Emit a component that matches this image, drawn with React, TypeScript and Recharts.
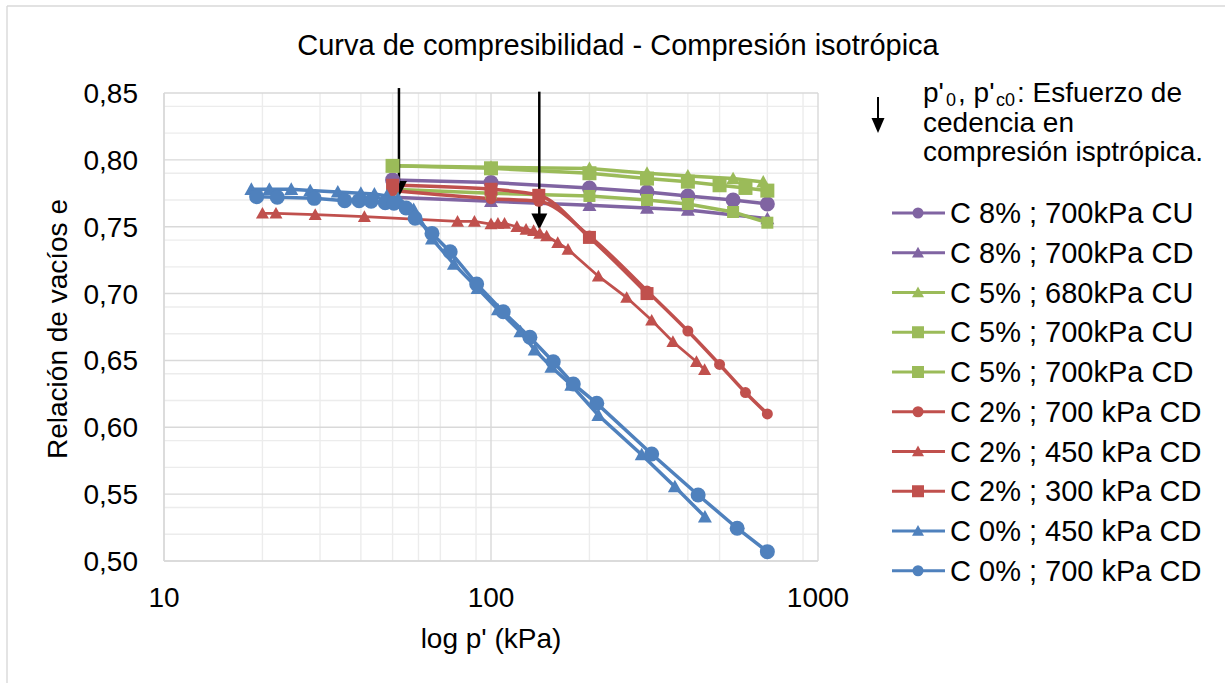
import React from 'react';
import { LineChart, Line, XAxis, YAxis, CartesianGrid, ReferenceLine } from 'recharts';

const PURPLE = '#8064A2';
const GREEN = '#9BBB59';
const RED = '#C0504D';
const BLUE = '#4F81BD';
const FONT = '"Liberation Sans", Arial, sans-serif';

// p' (kPa), e
const c8Cu700 = [[50, 0.785], [100, 0.783], [200, 0.779], [300, 0.776], [400, 0.773], [550, 0.770], [700, 0.767]];
const c8Cd700 = [[50, 0.772], [100, 0.769], [200, 0.766], [300, 0.764], [400, 0.7625], [700, 0.756]];
const c5Cu680 = [[50, 0.7955], [100, 0.7945], [200, 0.7935], [300, 0.790], [400, 0.788], [550, 0.786], [680, 0.7835]];
const c5Cu700 = [[50, 0.7955], [100, 0.7937], [200, 0.790], [300, 0.786], [400, 0.7837], [500, 0.781], [600, 0.779], [700, 0.777]];
const c5Cd700 = [[50, 0.778], [100, 0.775], [200, 0.773], [300, 0.770], [400, 0.767], [550, 0.761], [700, 0.753]];
const c2Cd700 = [[50, 0.777], [100, 0.771], [140, 0.769], [200, 0.743], [300, 0.702], [400, 0.672], [500, 0.647], [600, 0.626], [700, 0.610]];
const c2Cd450 = [
  [20, 0.760], [22, 0.760], [29, 0.759], [41, 0.7575], [79, 0.754], [89, 0.754], [100, 0.752], [105, 0.7525],
  [110, 0.7525], [120, 0.750], [128, 0.748], [135, 0.747], [141, 0.745], [148, 0.743], [160, 0.738], [172, 0.733],
  [213, 0.713], [260, 0.697], [310, 0.680], [360, 0.664], [425, 0.649], [450, 0.643],
];
const c2Cd300 = [[50, 0.781], [100, 0.778], [140, 0.7735], [200, 0.742], [300, 0.700]];
const c0Cd450 = [
  [18.5, 0.778], [21, 0.778], [24.5, 0.778], [28, 0.777], [34, 0.776], [40, 0.775], [44, 0.7745], [48, 0.773],
  [52, 0.771], [58, 0.763], [66, 0.741], [77, 0.722], [91, 0.704], [105, 0.688], [123, 0.6715], [136, 0.658],
  [153, 0.645], [176, 0.6316], [213, 0.609], [289, 0.5795], [365, 0.5556], [451, 0.533],
];
const c0Cd700 = [
  [19.2, 0.7725], [22.2, 0.772], [28.8, 0.7712], [35.7, 0.7695], [39.5, 0.7695], [43, 0.769], [47.5, 0.768],
  [50.5, 0.7675], [55, 0.764], [58.6, 0.7563], [66, 0.745], [75, 0.7313], [90.4, 0.7072], [109, 0.6864],
  [131.5, 0.6673], [155, 0.649], [178.5, 0.6324], [210.6, 0.6179], [310, 0.580], [430, 0.5494], [566, 0.5245], [700, 0.507],
];

// yield stress arrows: p', top of arrow, tip of arrow
const arrows = [
  { p: 52.3, top: 0.8537, tip: 0.7722 },
  { p: 140.5, top: 0.851, tip: 0.748 },
];

const xTicks = [10, 100, 1000];
const yTicks = [0.5, 0.55, 0.6, 0.65, 0.7, 0.75, 0.8, 0.85];
const xMinor = [20, 30, 40, 50, 60, 70, 80, 90, 200, 300, 400, 500, 600, 700, 800, 900];
const yMinor = [
  0.51, 0.52, 0.53, 0.54, 0.56, 0.57, 0.58, 0.59, 0.61, 0.62, 0.63, 0.64, 0.66, 0.67, 0.68, 0.69,
  0.71, 0.72, 0.73, 0.74, 0.76, 0.77, 0.78, 0.79, 0.81, 0.82, 0.83, 0.84,
];

type Shape = 'circle' | 'triangle' | 'square';

const series: { name: string; color: string; shape: Shape; size: number; width: number; smooth?: boolean; data: number[][] }[] = [
  { name: 'C 8% ; 700kPa CU', color: PURPLE, shape: 'circle', size: 15, width: 3.5, data: c8Cu700 },
  { name: 'C 8% ; 700kPa CD', color: PURPLE, shape: 'triangle', size: 14, width: 3.5, data: c8Cd700 },
  { name: 'C 5% ; 680kPa CU', color: GREEN, shape: 'triangle', size: 14, width: 3.5, data: c5Cu680 },
  { name: 'C 5% ; 700kPa CU', color: GREEN, shape: 'square', size: 14, width: 3.5, data: c5Cu700 },
  { name: 'C 5% ; 700kPa CD', color: GREEN, shape: 'square', size: 12, width: 3.5, data: c5Cd700 },
  { name: 'C 2% ; 700 kPa CD', color: RED, shape: 'circle', size: 11, width: 3.5, smooth: true, data: c2Cd700 },
  { name: 'C 2% ; 450 kPa CD', color: RED, shape: 'triangle', size: 13, width: 2.75, data: c2Cd450 },
  { name: 'C 2% ; 300 kPa CD', color: RED, shape: 'square', size: 13, width: 3.5, smooth: true, data: c2Cd300 },
  { name: 'C 0% ; 450 kPa CD', color: BLUE, shape: 'triangle', size: 14, width: 3.5, data: c0Cd450 },
  { name: 'C 0% ; 700 kPa CD', color: BLUE, shape: 'circle', size: 15, width: 3.5, data: c0Cd700 },
];

const Marker = ({ shape, cx, cy, size, color }: { shape: Shape; cx: number; cy: number; size: number; color: string }) => {
  if (shape === 'circle') return <circle cx={cx} cy={cy} r={size / 2} fill={color} />;
  if (shape === 'square') return <rect x={cx - size / 2} y={cy - size / 2} width={size} height={size} fill={color} />;
  const h = size * 0.9;
  return (
    <polygon
      points={`${cx},${cy - h * 0.55} ${cx - size / 2},${cy + h * 0.45} ${cx + size / 2},${cy + h * 0.45}`}
      fill={color}
    />
  );
};

const Arrow = (props: any) => {
  const { x1, y1, x2, y2 } = props;
  return (
    <g>
      <line x1={x1} y1={y1} x2={x2} y2={y2 - 12} stroke="#000" strokeWidth={2.5} />
      <polygon points={`${x2},${y2} ${x2 - 8},${y2 - 16} ${x2 + 8},${y2 - 16}`} fill="#000" />
    </g>
  );
};

const fmt = (v: number) => v.toFixed(2).replace('.', ',');

export default function App() {
  return (
    <div style={{ position: 'absolute', left: 0, top: 0, width: 1225, height: 683, background: '#fff', fontFamily: FONT }}>
      <LineChart width={1225} height={683} margin={{ top: 93, right: 407, bottom: 62, left: 64 }}>
        <CartesianGrid horizontalValues={yMinor} verticalValues={xMinor} stroke="#ECECEC" strokeWidth={1.4} />
        <CartesianGrid horizontalValues={yTicks} verticalValues={xTicks} stroke="#D9D9D9" strokeWidth={1.4} />
        <XAxis
          dataKey="p"
          type="number"
          scale="log"
          domain={[10, 1000]}
          ticks={xTicks}
          allowDataOverflow
          height={60}
          tickSize={0}
          tickMargin={26}
          axisLine={{ stroke: '#D9D9D9', strokeWidth: 1.4 }}
          tick={{ fill: '#000', fontSize: 28, fontFamily: FONT }}
        />
        <YAxis
          type="number"
          domain={[0.5, 0.85]}
          ticks={yTicks}
          allowDataOverflow
          width={100}
          tickSize={0}
          tickMargin={26}
          tickFormatter={fmt}
          axisLine={{ stroke: '#D9D9D9', strokeWidth: 1.4 }}
          tick={{ fill: '#000', fontSize: 28, fontFamily: FONT }}
        />
        {series.map((s, i) => (
          <Line
            key={s.name}
            name={s.name}
            data={s.data.map(([p, e]) => ({ p, e }))}
            dataKey="e"
            type={s.smooth ? 'monotone' : 'linear'}
            stroke={s.color}
            strokeWidth={s.width}
            isAnimationActive={false}
            activeDot={false}
            dot={(props: any) => (
              <Marker key={`m-${i}-${props.index}`} shape={s.shape} cx={props.cx} cy={props.cy} size={s.size} color={s.color} />
            )}
          />
        ))}
        {arrows.map((a, i) => (
          <ReferenceLine
            key={`a-${i}`}
            segment={[{ x: a.p, y: a.top }, { x: a.p, y: a.tip }]}
            ifOverflow="visible"
            stroke="#000"
            shape={Arrow}
          />
        ))}
      </LineChart>
      <svg width={1225} height={683} style={{ position: 'absolute', left: 0, top: 0, pointerEvents: 'none' }} fontFamily={FONT}>
        <line x1={7} y1={6} x2={1225} y2={6} stroke="#D9D9D9" strokeWidth={1.4} />
        <line x1={7} y1={6} x2={7} y2={683} stroke="#D9D9D9" strokeWidth={1.4} />
        <text x={618} y={55} fontSize={29} textAnchor="middle" fill="#000">
          Curva de compresibilidad - Compresión isotrópica
        </text>
        <text x={491} y={648} fontSize={28} textAnchor="middle" fill="#000">
          log p' (kPa)
        </text>
        <text x={57} y={329} fontSize={28} textAnchor="middle" dy="0.35em" fill="#000" transform="rotate(-90, 57, 329)">
          Relación de vacíos e
        </text>
        <line x1={878} y1={97} x2={878} y2={122} stroke="#000" strokeWidth={2} />
        <polygon points="878,133 871.5,118 884.5,118" fill="#000" />
        <text x={923} y={102} fontSize={28} fill="#000">p'</text>
        <text x={946} y={106} fontSize={18} fill="#000">0</text>
        <text x={958} y={102} fontSize={28} fill="#000">, p'</text>
        <text x={996} y={106} fontSize={18} fill="#000">c0</text>
        <text x={1017} y={102} fontSize={28} fill="#000">: Esfuerzo de</text>
        <text x={923} y={131.5} fontSize={28} fill="#000">cedencia en</text>
        <text x={923} y={161} fontSize={28} fill="#000">compresión isptrópica.</text>
        {series.map((s, i) => {
          const cy = 213 + i * 39.75;
          return (
            <g key={s.name}>
              <line x1={892} y1={cy} x2={945} y2={cy} stroke={s.color} strokeWidth={3} />
              <Marker shape={s.shape} cx={918} cy={cy} size={s.shape === 'circle' ? 11 : 12} color={s.color} />
              <text x={950} y={cy + 10} fontSize={29} fill="#000">
                {s.name}
              </text>
            </g>
          );
        })}
      </svg>
    </div>
  );
}
